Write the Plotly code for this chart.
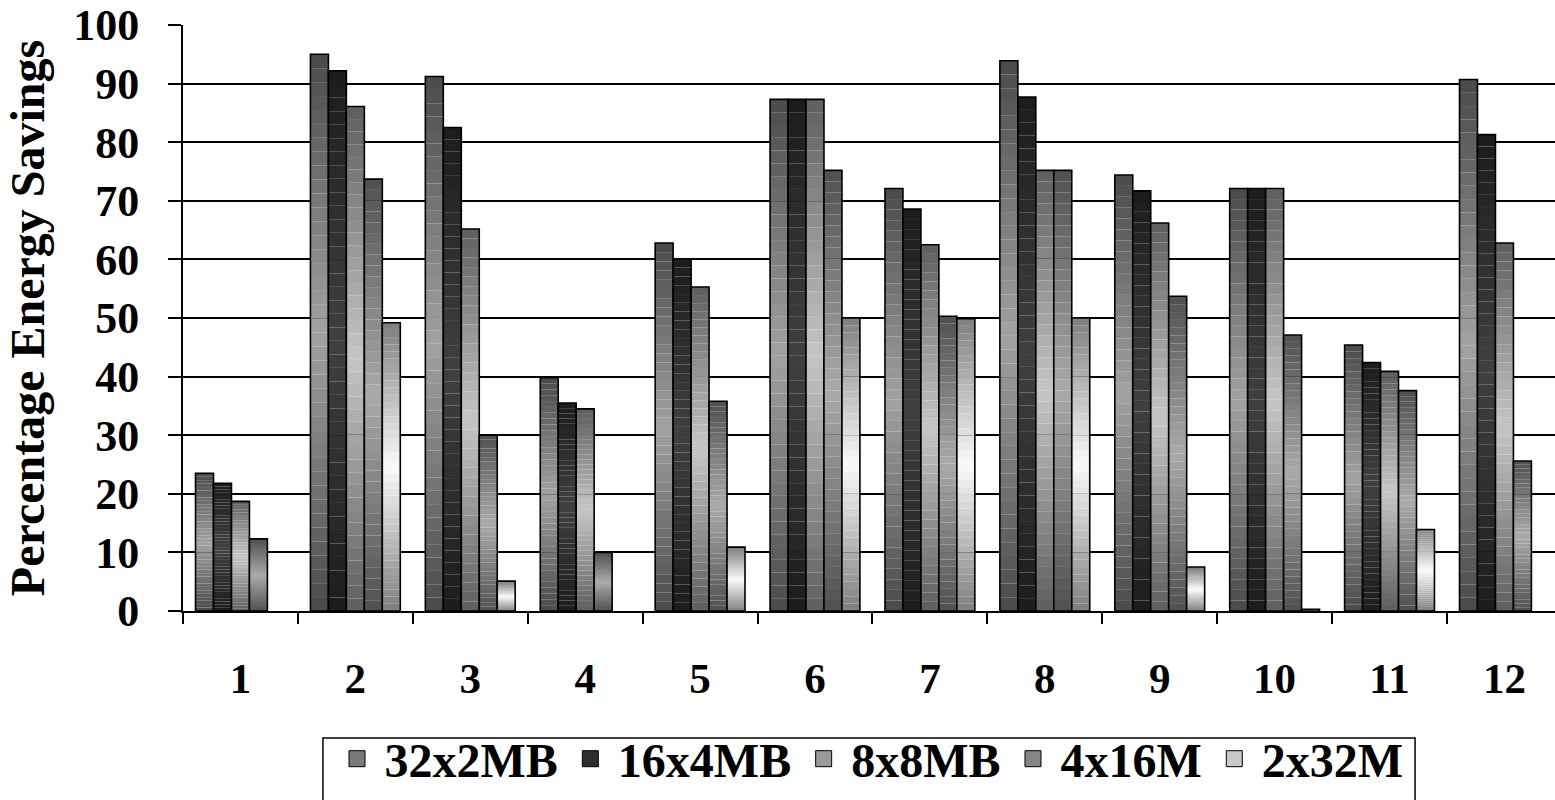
import plotly.graph_objects as go

# Benchmark index on the x axis
categories = [str(i) for i in range(1, 13)]

# Percentage energy savings for each bank configuration
series_names = ["32x2MB", "16x4MB", "8x8MB", "4x16M", "2x32M"]
s32x2 = [23.5, 95.0, 91.2, 39.8, 62.8, 87.3, 72.1, 93.9, 74.4, 72.1, 45.4, 90.7]
s16x4 = [21.8, 92.2, 82.5, 35.5, 60.1, 87.3, 68.6, 87.7, 71.7, 72.1, 42.4, 81.3]
s8x8 = [18.7, 86.1, 65.2, 34.5, 55.3, 87.3, 62.5, 75.2, 66.2, 72.1, 40.9, 62.8]
s4x16 = [12.3, 73.7, 30.0, 10.0, 35.8, 75.2, 50.3, 75.2, 53.7, 47.1, 37.6, 25.6]
s2x32 = [0.0, 49.2, 5.1, 0.0, 10.9, 50.0, 49.9, 50.0, 7.5, 0.3, 13.9, 0.0]
series_values = [s32x2, s16x4, s8x8, s4x16, s2x32]

# Vertical gradient per series: (edge grey, centre grey)
gradients = [
    ((74, 74, 74), (162, 162, 162)),
    ((28, 28, 28), (64, 64, 64)),
    ((94, 94, 94), (198, 198, 198)),
    ((80, 80, 80), (170, 170, 170)),
    ((126, 126, 126), (250, 250, 250)),
]
legend_swatch = ["#7a7a7a", "#2e2e2e", "#9a9a9a", "#868686", "#c8c8c8"]

FONT = "Liberation Serif"
N_STEPS = 40


def shade(edge, centre, t):
    w = 1 - abs(2 * t - 1)
    return "rgb({},{},{})".format(*[round(e + (c - e) * w) for e, c in zip(edge, centre)])


def drawn(vals):
    # zero-height bars are left undrawn
    return [v if v > 0 else None for v in vals]


fig = go.Figure()

# Legend entries
for s, name in enumerate(series_names):
    fig.add_trace(go.Scatter(
        x=[None], y=[None], mode="markers", name="<b>" + name + "</b>",
        marker=dict(symbol="square", size=23, color=legend_swatch[s],
                    line=dict(color="black", width=1)),
        showlegend=True,
    ))

# Gradient-filled bars: each bar is split into thin stacked bands
for s, vals in enumerate(series_values):
    edge, centre = gradients[s]
    dv = drawn(vals)
    for k in range(N_STEPS):
        fig.add_trace(go.Bar(
            x=categories,
            y=[None if v is None else v / N_STEPS for v in dv],
            base=[None if v is None else v * k / N_STEPS for v in dv],
            offsetgroup=str(s),
            marker=dict(color=shade(edge, centre, (k + 0.5) / N_STEPS), line=dict(width=0)),
            showlegend=False, hoverinfo="skip",
        ))
    # outline of the full bar
    fig.add_trace(go.Bar(
        x=categories, y=dv, offsetgroup=str(s), name=series_names[s],
        marker=dict(color="rgba(0,0,0,0)", line=dict(color="black", width=1.6)),
        showlegend=False,
    ))

# Frame around the legend, running off the bottom of the page
fig.add_shape(
    type="rect", xref="paper", yref="paper",
    x0=0.102, x1=0.898, y0=-0.2167, y1=-0.36,
    line=dict(color="black", width=1.5), fillcolor="rgba(0,0,0,0)", layer="above",
)

fig.update_layout(
    width=1555, height=800,
    margin=dict(l=183, r=0, t=25, b=189, autoexpand=False),
    paper_bgcolor="white", plot_bgcolor="white",
    barmode="group", bargap=0.218, bargroupgap=0,
    font=dict(family=FONT, color="black"),
    legend=dict(
        orientation="h", x=0.5, xanchor="center", y=-0.1877, yanchor="top",
        font=dict(family=FONT, size=48, color="black"),
        borderwidth=0, bgcolor="rgba(0,0,0,0)",
        itemsizing="trace", itemwidth=45, traceorder="normal", tracegroupgap=0,
    ),
    xaxis=dict(
        type="category", range=[-0.5, 11.44],
        tickson="boundaries", ticks="outside", ticklen=11, tickwidth=2, tickcolor="black",
        showline=True, linecolor="black", linewidth=2,
        showgrid=False, ticklabelstandoff=28,
        tickfont=dict(family=FONT, size=43, weight="bold", color="black"),
    ),
    yaxis=dict(
        range=[0, 100], dtick=10, tick0=0,
        ticks="outside", ticklen=13, tickwidth=2, tickcolor="black",
        showline=True, linecolor="black", linewidth=2,
        showgrid=True, gridcolor="black", gridwidth=2, zeroline=False,
        ticklabelstandoff=20,
        tickfont=dict(family=FONT, size=44, weight="bold", color="black"),
        title=dict(text="Percentage Energy Savings", standoff=13,
                   font=dict(family=FONT, size=48, weight="bold", color="black")),
    ),
)

fig.write_html("out.html")
